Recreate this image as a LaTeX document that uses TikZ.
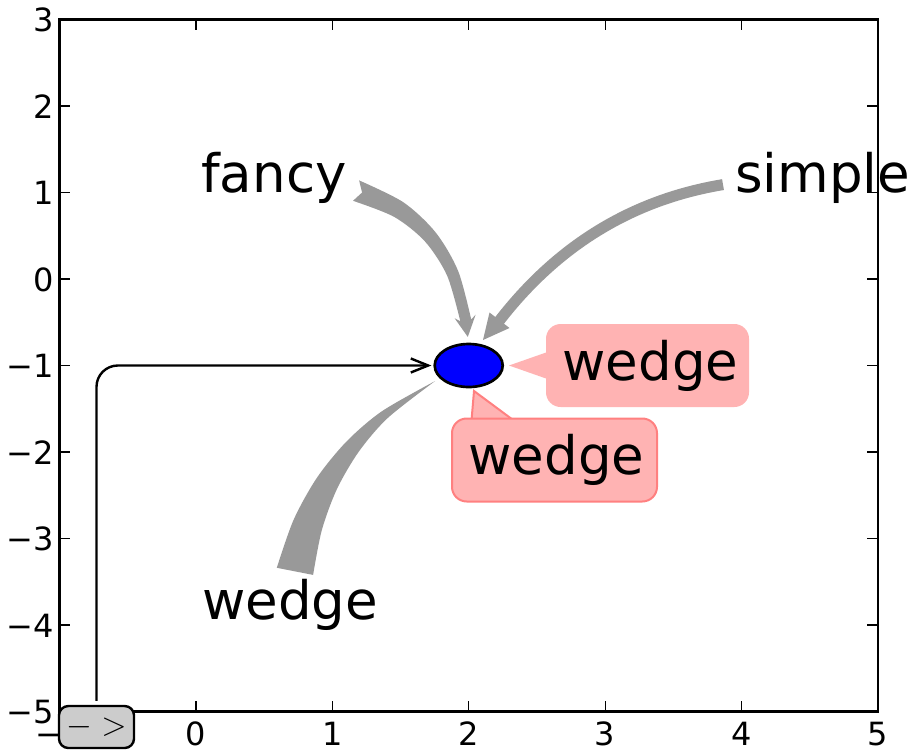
\documentclass[tikz,border=0pt]{standalone}
\usepackage{fontspec}
\setmainfont{DejaVu Sans}
\usetikzlibrary{shapes.geometric,arrows.meta}
\definecolor{pinkfill}{RGB}{255,179,179}
\definecolor{pinkedge}{RGB}{255,128,128}
\definecolor{arrowgray}{RGB}{153,153,153}
\definecolor{boxgray}{RGB}{204,204,204}
\newcommand\tlsize{\fontsize{24pt}{28pt}\selectfont}
\newcommand\annsize{\fontsize{39.75pt}{46pt}\selectfont}
\begin{document}
\begin{tikzpicture}[x=0.75pt,y=-0.75pt,
  frame/.style={line width=2pt},
  tickmark/.style={line width=0.9pt},
  ticklbl/.style={font=\tlsize, inner sep=0pt},
  annlbl/.style={font=\annsize, inner sep=0pt},
  dotstyle/.style={ellipse, draw=black, fill=blue, line width=2pt, inner sep=0pt,
                   minimum width=51pt, minimum height=32.25pt},
  arrowboxstyle/.style={draw=black, fill=boxgray, line width=1.8pt, rounded corners=7pt,
                   inner sep=0pt, minimum width=56.25pt, minimum height=31.5pt, font=\tlsize},
  pinkbox/.style={fill=pinkfill, rounded corners=11pt, inner sep=0pt, font=\annsize,
                   minimum height=62.25pt},
  connector/.style={line width=1.8pt, rounded corners=16pt,
                   -{Straight Barb[length=13pt,width=10.5pt]}},
  grayarrow/.style={fill=arrowgray},
]
\path[use as bounding box] (0,0) rectangle (913,750);
\fill[white] (0,0) rectangle (913,750);
% axes frame
\draw[frame] (59.5,19.5) rectangle (878,711.5);
\foreach \lbl [count=\i from 0] in {−1,0,1,2,3,4,5} {
  \pgfmathsetmacro\xx{59.5+136.4167*\i}
  \draw[tickmark] (\xx,711.5) -- (\xx,700.8);
  \draw[tickmark] (\xx,19.5) -- (\xx,30.2);
  \node[ticklbl, anchor=base] (xl\i) at (\xx,745) {\lbl};
}
\foreach \lbl [count=\j from 0] in {3,2,1,0,−1,−2,−3,−4,−5} {
  \pgfmathsetmacro\yy{19.5+86.5*\j}
  \draw[tickmark] (59.5,\yy) -- (70.2,\yy);
  \draw[tickmark] (878,\yy) -- (867.3,\yy);
  \node[ticklbl, anchor=base east] (yl\j) at (54,\yy+12) {\lbl};
}
% ellipse
\node[dotstyle] (dot) at (468.7,365.5) {};
% grey wedge arrow
\fill[grayarrow] plot[smooth] coordinates {(276.8,567.8) (293.65,519.7) (317.1,477.5) (346.7,441.3) (382.2,411.05) (435.0,381.1)}
  -- plot[smooth] coordinates {(435.0,381.1) (387.9,417.85) (358.9,451.5) (337.0,488.9) (321.85,530.0) (313.1,574.9)} -- cycle;
% fancy arrow
\fill[grayarrow] (362.1,192.5) -- plot[smooth] coordinates {(353.0,200.8) (394.2,216.9) (425.0,241.5) (447.1,275.6) (460.3,321.2)}
  -- (454.65,318.3) -- (467.8,336.9) -- (475.6,314.7)
  -- plot[smooth] coordinates {(471.2,319.5) (458.1,270.9) (435.7,232.5) (403.4,202.3) (359.1,180.4)} -- cycle;
% simple arrow
\draw[arrowgray, line width=8.25pt] (723,184.6) .. controls (632.1,199.7) and (557.3,245.4) .. (498.6,321.7);
\fill[grayarrow] (509.5,328) -- (483,340) -- (489.5,312.5) -- cycle;
% pink wedges
\fill[pinkfill] (586,338.5) -- (509,365.5) -- (586,392.5) -- cycle;
\filldraw[fill=pinkfill, draw=pinkedge, line width=1.5pt, line join=miter] (469.4,445.3) -- (474,391) -- (517.8,423.5) -- cycle;
% pink boxes
\node[pinkbox, minimum width=152.25pt] (wedgeA) at (647.5,365.5) {\hspace*{4.5pt}wedge};
\node[pinkbox, draw=pinkedge, line width=1.5pt, minimum width=153.75pt] (wedgeB) at (554.5,460) {\hspace*{3pt}wedge};
% texts
\node[annlbl, anchor=base west] (fancy) at (201,192.5) {fancy};
\node[annlbl, anchor=base west] (simple) at (735,192.5) {simple};
\node[annlbl, anchor=base west] (wedgeL) at (202,619) {wedge};
% arrow box and connector
\node[arrowboxstyle] (arrowbox) at (96.5,727) {$->$};
\draw[connector, shorten <=3pt, shorten >=1.5pt] (arrowbox.north) |- (dot.west);
\end{tikzpicture}
\end{document}
